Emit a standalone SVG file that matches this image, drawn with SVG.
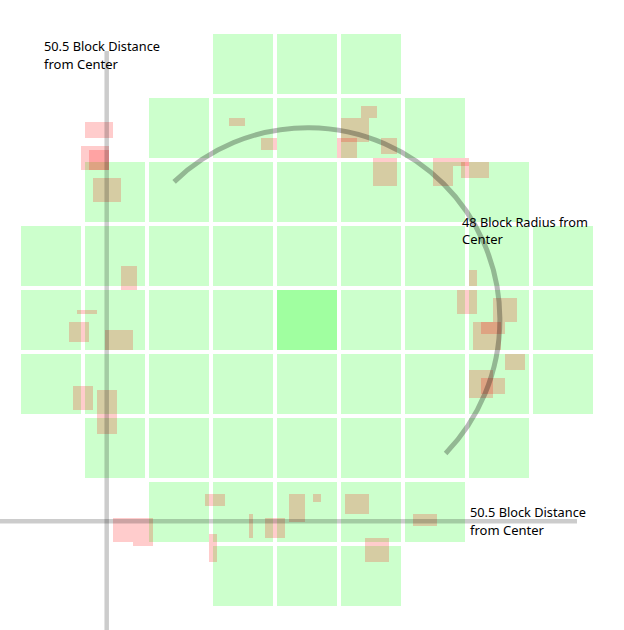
<svg xmlns="http://www.w3.org/2000/svg" width="624" height="630" viewBox="0 0 624 630">
<style>
.ch{fill:#ccffcc}
.cc{fill:#a0ffa0}
.cl{fill:#ff0000;fill-opacity:0.2}
.gl{stroke:#000;stroke-opacity:0.2;stroke-width:4.5;fill:none}
.arc{stroke:#000;stroke-opacity:0.28;stroke-width:5;fill:none}
.lb{font-family:"Noto Sans","Open Sans","Liberation Sans",sans-serif;font-size:13px;fill:#000}
</style>
<rect width="624" height="630" fill="#fff"/>
<g id="chunks">
<rect class="ch" x="213" y="34" width="60" height="60"/><rect class="ch" x="277" y="34" width="60" height="60"/><rect class="ch" x="341" y="34" width="60" height="60"/>
<rect class="ch" x="149" y="98" width="60" height="60"/><rect class="ch" x="213" y="98" width="60" height="60"/><rect class="ch" x="277" y="98" width="60" height="60"/><rect class="ch" x="341" y="98" width="60" height="60"/><rect class="ch" x="405" y="98" width="60" height="60"/>
<rect class="ch" x="85" y="162" width="60" height="60"/><rect class="ch" x="149" y="162" width="60" height="60"/><rect class="ch" x="213" y="162" width="60" height="60"/><rect class="ch" x="277" y="162" width="60" height="60"/><rect class="ch" x="341" y="162" width="60" height="60"/><rect class="ch" x="405" y="162" width="60" height="60"/><rect class="ch" x="469" y="162" width="60" height="60"/>
<rect class="ch" x="21" y="226" width="60" height="60"/><rect class="ch" x="85" y="226" width="60" height="60"/><rect class="ch" x="149" y="226" width="60" height="60"/><rect class="ch" x="213" y="226" width="60" height="60"/><rect class="ch" x="277" y="226" width="60" height="60"/><rect class="ch" x="341" y="226" width="60" height="60"/><rect class="ch" x="405" y="226" width="60" height="60"/><rect class="ch" x="469" y="226" width="60" height="60"/><rect class="ch" x="533" y="226" width="60" height="60"/>
<rect class="ch" x="21" y="290" width="60" height="60"/><rect class="ch" x="85" y="290" width="60" height="60"/><rect class="ch" x="149" y="290" width="60" height="60"/><rect class="ch" x="213" y="290" width="60" height="60"/><rect class="cc" x="277" y="290" width="60" height="60"/><rect class="ch" x="341" y="290" width="60" height="60"/><rect class="ch" x="405" y="290" width="60" height="60"/><rect class="ch" x="469" y="290" width="60" height="60"/><rect class="ch" x="533" y="290" width="60" height="60"/>
<rect class="ch" x="21" y="354" width="60" height="60"/><rect class="ch" x="85" y="354" width="60" height="60"/><rect class="ch" x="149" y="354" width="60" height="60"/><rect class="ch" x="213" y="354" width="60" height="60"/><rect class="ch" x="277" y="354" width="60" height="60"/><rect class="ch" x="341" y="354" width="60" height="60"/><rect class="ch" x="405" y="354" width="60" height="60"/><rect class="ch" x="469" y="354" width="60" height="60"/><rect class="ch" x="533" y="354" width="60" height="60"/>
<rect class="ch" x="85" y="418" width="60" height="60"/><rect class="ch" x="149" y="418" width="60" height="60"/><rect class="ch" x="213" y="418" width="60" height="60"/><rect class="ch" x="277" y="418" width="60" height="60"/><rect class="ch" x="341" y="418" width="60" height="60"/><rect class="ch" x="405" y="418" width="60" height="60"/><rect class="ch" x="469" y="418" width="60" height="60"/>
<rect class="ch" x="149" y="482" width="60" height="60"/><rect class="ch" x="213" y="482" width="60" height="60"/><rect class="ch" x="277" y="482" width="60" height="60"/><rect class="ch" x="341" y="482" width="60" height="60"/><rect class="ch" x="405" y="482" width="60" height="60"/>
<rect class="ch" x="213" y="546" width="60" height="60"/><rect class="ch" x="277" y="546" width="60" height="60"/><rect class="ch" x="341" y="546" width="60" height="60"/>
</g>
<g id="claims">
<rect class="cl" x="229" y="118" width="16" height="8"/>
<rect class="cl" x="261" y="138" width="16" height="12"/>
<rect class="cl" x="361" y="106" width="16" height="12"/>
<rect class="cl" x="341" y="118" width="28" height="24"/>
<rect class="cl" x="337" y="138" width="20" height="20"/>
<rect class="cl" x="381" y="138" width="16" height="16"/>
<rect class="cl" x="373" y="158" width="24" height="28"/>
<rect class="cl" x="433" y="158" width="20" height="28"/>
<rect class="cl" x="453" y="158" width="16" height="8"/>
<rect class="cl" x="461" y="162" width="28" height="16"/>
<rect class="cl" x="469" y="270" width="8" height="16"/>
<rect class="cl" x="457" y="290" width="20" height="24"/>
<rect class="cl" x="493" y="298" width="24" height="24"/>
<rect class="cl" x="473" y="322" width="28" height="28"/>
<rect class="cl" x="481" y="322" width="24" height="12"/>
<rect class="cl" x="505" y="354" width="20" height="16"/>
<rect class="cl" x="469" y="370" width="24" height="28"/>
<rect class="cl" x="481" y="378" width="24" height="16"/>
<rect class="cl" x="85" y="122" width="28" height="16"/>
<rect class="cl" x="81" y="146" width="28" height="24"/>
<rect class="cl" x="89" y="150" width="20" height="20"/>
<rect class="cl" x="93" y="178" width="28" height="24"/>
<rect class="cl" x="121" y="266" width="16" height="24"/>
<rect class="cl" x="77" y="310" width="20" height="4"/>
<rect class="cl" x="69" y="322" width="20" height="20"/>
<rect class="cl" x="105" y="330" width="28" height="20"/>
<rect class="cl" x="73" y="386" width="20" height="24"/>
<rect class="cl" x="97" y="390" width="20" height="44"/>
<rect class="cl" x="113" y="518" width="40" height="24"/>
<rect class="cl" x="133" y="542" width="20" height="4"/>
<rect class="cl" x="205" y="494" width="20" height="12"/>
<rect class="cl" x="209" y="534" width="8" height="28"/>
<rect class="cl" x="249" y="514" width="4" height="24"/>
<rect class="cl" x="265" y="518" width="20" height="20"/>
<rect class="cl" x="289" y="494" width="16" height="28"/>
<rect class="cl" x="313" y="494" width="8" height="8"/>
<rect class="cl" x="345" y="494" width="24" height="20"/>
<rect class="cl" x="365" y="538" width="24" height="24"/>
<rect class="cl" x="413" y="514" width="24" height="12"/>
</g>
<g id="connectors">
<line class="gl" x1="106.7" y1="51" x2="106.7" y2="630"/>
<line class="gl" x1="0" y1="521.2" x2="577" y2="521.2"/>
<path class="arc" d="M 174.1 181.9 A 192 192 0 0 1 445.6 453.4"/>
</g>
<g id="labels">
<text class="lb" x="44" y="51" textLength="116" lengthAdjust="spacingAndGlyphs">50.5 Block Distance</text>
<text class="lb" x="44" y="68.5" textLength="74" lengthAdjust="spacingAndGlyphs">from Center</text>
<text class="lb" x="462" y="226.7" textLength="126" lengthAdjust="spacingAndGlyphs">48 Block Radius from</text>
<text class="lb" x="462" y="244.3" textLength="41" lengthAdjust="spacingAndGlyphs">Center</text>
<text class="lb" x="470" y="517" textLength="116" lengthAdjust="spacingAndGlyphs">50.5 Block Distance</text>
<text class="lb" x="470" y="534.5" textLength="74" lengthAdjust="spacingAndGlyphs">from Center</text>
</g>
</svg>
